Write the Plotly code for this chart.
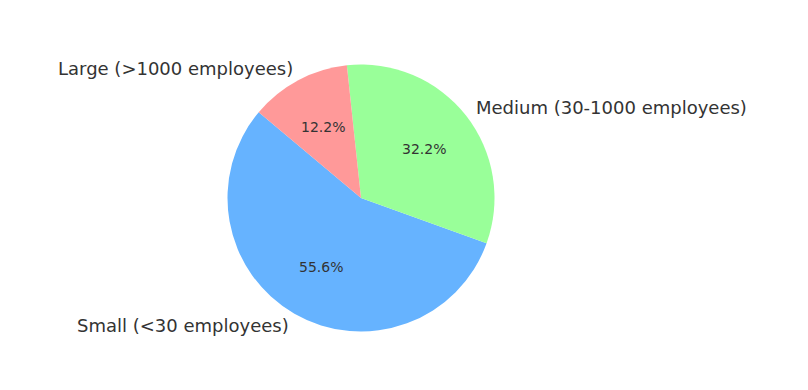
import math
import plotly.graph_objects as go

categories = ["Small (<30 employees)", "Medium (30-1000 employees)", "Large (>1000 employees)"]
values = [55.6, 32.2, 12.2]
colors = ["#66b3ff", "#99ff99", "#ff9999"]
start_angle = 140  # matplotlib-style, degrees counterclockwise from +x

W, H = 808, 390
cx, cy, r = 361, 198, 133.5  # pixel center and radius

total = sum(values)
# plotly (counterclockwise) puts the end of the first slice at the rotation angle
first_end = start_angle + 360 * values[0] / total
rotation = 90 - first_end
while rotation < -360:
    rotation += 360

fig = go.Figure(go.Pie(
    labels=categories, values=values, sort=False,
    direction="counterclockwise", rotation=rotation,
    marker=dict(colors=colors, line=dict(width=0)),
    textinfo="none", hoverinfo="label+percent", showlegend=False,
    domain=dict(x=[(cx - r) / W, (cx + r) / W], y=[(H - cy - r) / H, (H - cy + r) / H]),
))

ang = start_angle
annotations = []
for lab, v in zip(categories, values):
    span = 360 * v / total
    mid = math.radians(ang + span / 2)
    ang += span
    lx = cx + 1.1 * r * math.cos(mid)
    ly = cy - 1.1 * r * math.sin(mid)
    right = math.cos(mid) > 0
    annotations.append(dict(
        x=lx / W, y=1 - ly / H, xref="paper", yref="paper", text=lab, showarrow=False,
        xanchor="left" if right else "right", yanchor="middle",
        xshift=-3 if right else 3,
        font=dict(family="DejaVu Sans", size=18, color="#333333"),
    ))
    px = cx + 0.6 * r * math.cos(mid)
    py = cy - 0.6 * r * math.sin(mid)
    annotations.append(dict(
        x=px / W, y=1 - py / H, xref="paper", yref="paper", text=f"{100 * v / total:.1f}%",
        showarrow=False, xanchor="center", yanchor="middle",
        font=dict(family="DejaVu Sans", size=14, color="#333333"),
    ))

fig.update_layout(
    width=W, height=H, margin=dict(l=0, r=0, t=0, b=0),
    paper_bgcolor="white", plot_bgcolor="white",
    annotations=annotations,
)
fig.write_html("out.html")
